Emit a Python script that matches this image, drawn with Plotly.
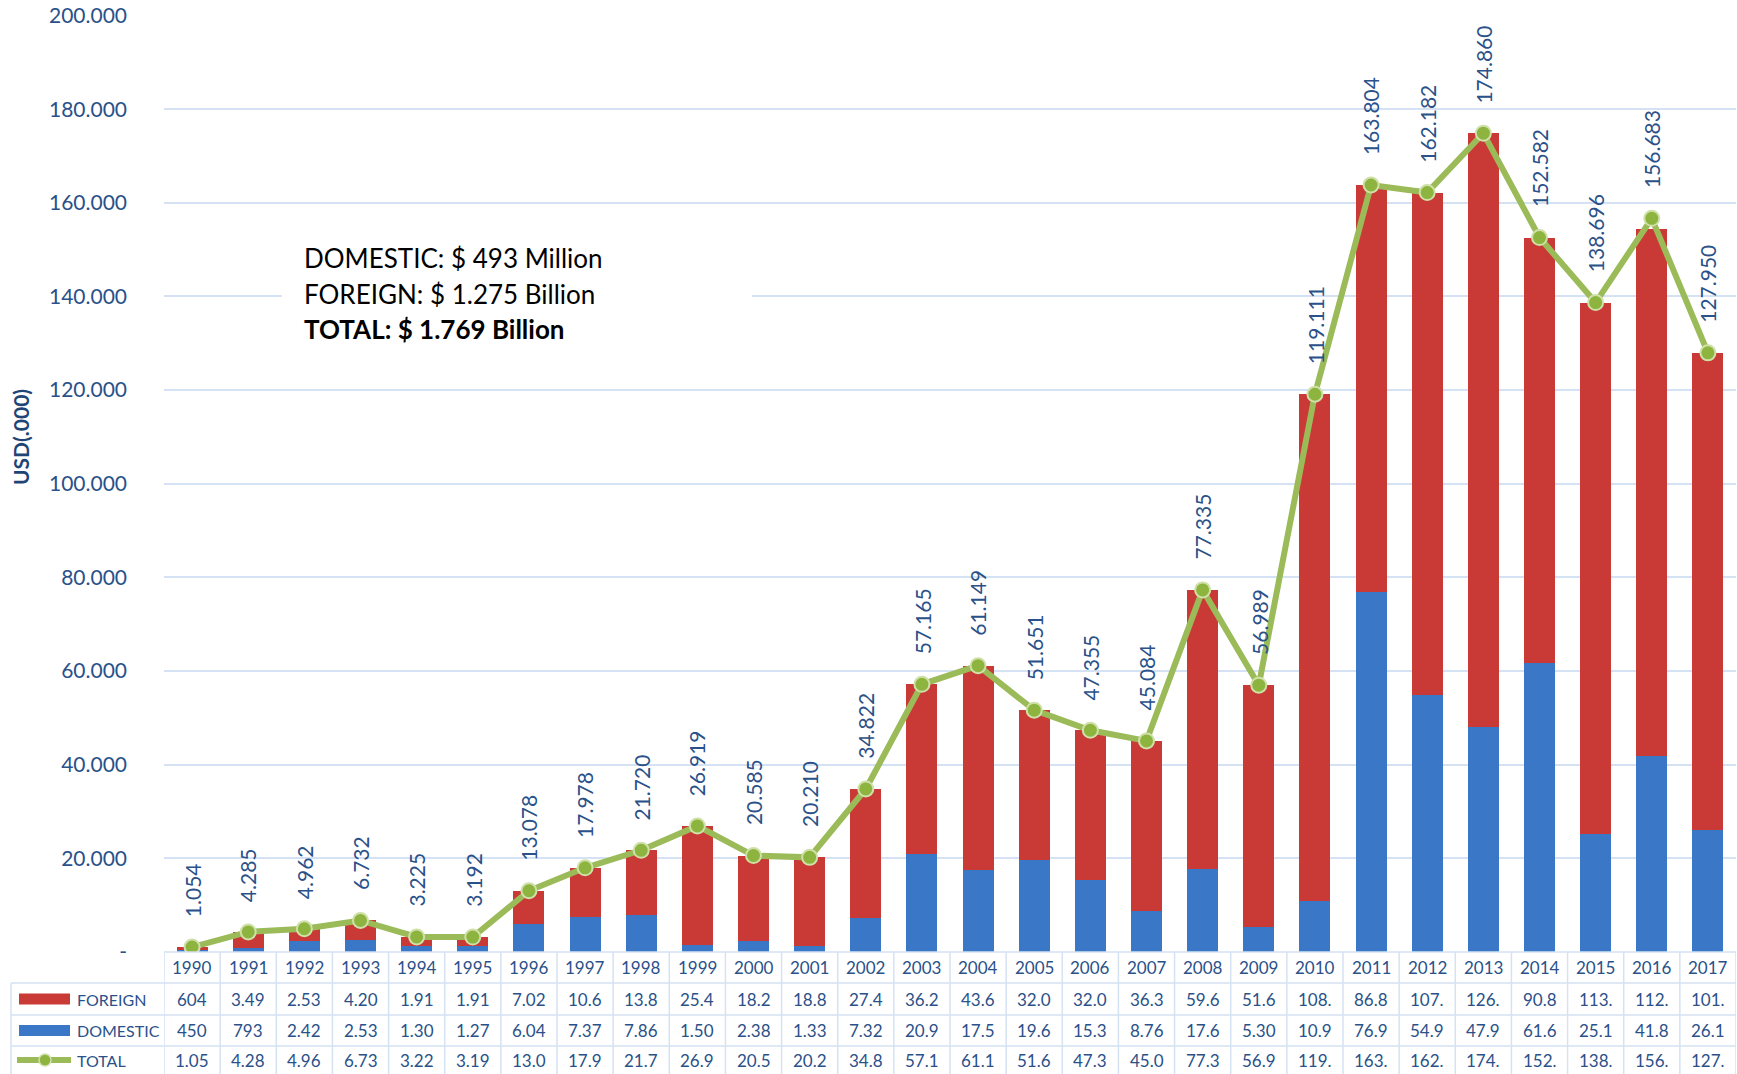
import plotly.graph_objects as go

years = [str(y) for y in range(1990, 2018)]
foreign = [604, 3492, 2535, 4200, 1919, 1915, 7029, 10600, 13860, 25415,
           18200, 18875, 27497, 36215, 43649, 32001, 32005, 36320, 59685, 51685,
           108161, 86854, 107232, 126910, 90899, 113546, 112480, 101800]
domestic = [450, 793, 2427, 2532, 1306, 1277, 6049, 7378, 7860, 1504,
            2385, 1335, 7325, 20950, 17500, 19650, 15350, 8764, 17650, 5304,
            10950, 76950, 54950, 47950, 61683, 25150, 41850, 26150]
total = [1054, 4285, 4962, 6732, 3225, 3192, 13078, 17978, 21720, 26919,
         20585, 20210, 34822, 57165, 61149, 51651, 47355, 45084, 77335, 56989,
         119111, 163804, 162182, 174860, 152582, 138696, 156683, 127950]
ytick_vals = [0, 20000, 40000, 60000, 80000, 100000, 120000, 140000, 160000, 180000, 200000]
ytick_text = ["-", "20.000", "40.000", "60.000", "80.000", "100.000", "120.000",
              "140.000", "160.000", "180.000", "200.000"]
summary_lines = ["DOMESTIC: $ 493 Million", "FOREIGN: $ 1.275 Billion", "<b>TOTAL: $ 1.769 Billion</b>"]

W, H = 1737, 1074
FONT = "Lato"
TXT = "#2A5189"
RED = "#C93936"
BLUE = "#3A77C6"
GREEN = "#9BBB59"
GRID = "#D5E2F3"

def fmt(v):
    return f"{v:,}".replace(",", ".")

def px_x(p):
    return p / W

def px_y(p):
    return 1 - p / H

x0_plot, x1_plot = 164, 1736
y_bottom, y_top = 952, 15.5

fig = go.Figure()
fig.add_trace(go.Bar(x=years, y=domestic, name="DOMESTIC", marker=dict(color=BLUE, line=dict(width=0)), width=0.55))
fig.add_trace(go.Bar(x=years, y=foreign, name="FOREIGN", marker=dict(color=RED, line=dict(width=0)), width=0.55))
fig.add_trace(go.Scatter(x=years, y=total, name="TOTAL", mode="lines+markers",
                         line=dict(color=GREEN, width=6),
                         marker=dict(size=15, color="#8DB43F", line=dict(color="#CFE0A8", width=2))))

annotations = []
for i, t in enumerate(total):
    annotations.append(dict(x=i, y=t, xref="x", yref="y", text=fmt(t), showarrow=False,
                            textangle=-90, yanchor="bottom", xanchor="center", yshift=28,
                            font=dict(family=FONT, size=21, color=TXT)))

# summary text box
shapes = [dict(type="rect", xref="paper", yref="paper", x0=px_x(282), x1=px_x(752),
               y0=px_y(355), y1=px_y(215), fillcolor="white", line=dict(width=0), layer="above")]
for line, yc in zip(summary_lines, [258, 294, 329]):
    annotations.append(dict(x=px_x(302), y=px_y(yc), xref="paper", yref="paper", text=line,
                            showarrow=False, xanchor="left", yanchor="middle",
                            font=dict(family=FONT, size=26, color="black")))

# y-axis title
annotations.append(dict(x=px_x(20), y=px_y(437), xref="paper", yref="paper", text="<b>USD(.000)</b>",
                        showarrow=False, textangle=-90, xanchor="center", yanchor="middle",
                        font=dict(family=FONT, size=21, color="#1F4577")))

# data table
row_edges = [952, 983, 1015, 1046, 1074]
row_centers = [967.5, 999, 1030.5, 1060]
rows = [foreign, domestic, total]
for i, yr in enumerate(years):
    annotations.append(dict(x=i, y=px_y(row_centers[0]), xref="x", yref="paper", text=yr,
                            showarrow=False, xanchor="center", yanchor="middle",
                            font=dict(family=FONT, size=17, color=TXT)))
    for r, vals in enumerate(rows):
        annotations.append(dict(x=i, y=px_y(row_centers[r + 1]), xref="x", yref="paper",
                                text=fmt(vals[i])[:4], showarrow=False,
                                xanchor="center", yanchor="middle",
                                font=dict(family=FONT, size=17, color=TXT)))

for lab, yc in zip(["FOREIGN", "DOMESTIC", "TOTAL"], row_centers[1:]):
    annotations.append(dict(x=px_x(75), y=px_y(yc), xref="paper", yref="paper", text=lab,
                            showarrow=False, xanchor="left", yanchor="middle",
                            font=dict(family=FONT, size=16, color=TXT)))

# legend swatches
shapes.append(dict(type="rect", xref="paper", yref="paper", x0=px_x(19), x1=px_x(70),
                   y0=px_y(row_centers[1] + 5.5), y1=px_y(row_centers[1] - 5.5),
                   fillcolor=RED, line=dict(width=0)))
shapes.append(dict(type="rect", xref="paper", yref="paper", x0=px_x(19), x1=px_x(70),
                   y0=px_y(row_centers[2] + 5.5), y1=px_y(row_centers[2] - 5.5),
                   fillcolor=BLUE, line=dict(width=0)))
shapes.append(dict(type="line", xref="paper", yref="paper", x0=px_x(17), x1=px_x(71),
                   y0=px_y(row_centers[3]), y1=px_y(row_centers[3]),
                   line=dict(color=GREEN, width=6)))
shapes.append(dict(type="circle", xref="paper", yref="paper", x0=px_x(39), x1=px_x(51),
                   y0=px_y(row_centers[3] + 6), y1=px_y(row_centers[3] - 6),
                   fillcolor="#8DB43F", line=dict(color="#CFE0A8", width=1.5)))

# table grid lines
for k in range(len(years) + 1):
    shapes.append(dict(type="line", xref="x", yref="paper", x0=k - 0.5, x1=k - 0.5,
                       y0=px_y(row_edges[0]), y1=px_y(row_edges[-1]),
                       line=dict(color=GRID, width=1.5)))
shapes.append(dict(type="line", xref="paper", yref="paper", x0=px_x(11), x1=px_x(11),
                   y0=px_y(row_edges[1]), y1=px_y(row_edges[-1]), line=dict(color=GRID, width=1.5)))
shapes.append(dict(type="line", xref="paper", yref="paper", x0=px_x(x0_plot), x1=px_x(x1_plot),
                   y0=px_y(row_edges[0]), y1=px_y(row_edges[0]), line=dict(color=GRID, width=1.5)))
for e in row_edges[1:4]:
    shapes.append(dict(type="line", xref="paper", yref="paper", x0=px_x(11), x1=px_x(x1_plot),
                       y0=px_y(e), y1=px_y(e), line=dict(color=GRID, width=1.5)))

fig.update_layout(
    width=W, height=H, margin=dict(l=0, r=0, t=0, b=0),
    paper_bgcolor="white", plot_bgcolor="white",
    barmode="stack", showlegend=False,
    xaxis=dict(domain=[px_x(x0_plot), px_x(x1_plot)], type="category", range=[-0.5, 27.5],
               showticklabels=False, showgrid=False, zeroline=False, showline=False, automargin=False),
    yaxis=dict(domain=[px_y(y_bottom), px_y(y_top)], range=[0, 200000],
               tickvals=ytick_vals, ticktext=ytick_text, showgrid=True, gridcolor=GRID, gridwidth=1.5,
               zeroline=False, showline=False, ticks="", ticklabelstandoff=36, automargin=False,
               tickfont=dict(family=FONT, size=21, color=TXT)),
    annotations=annotations, shapes=shapes,
)

fig.write_html("out.html", config={"displayModeBar": False},
               post_script="document.body.style.margin='0';document.body.style.padding='0';document.body.style.overflow='hidden';")
